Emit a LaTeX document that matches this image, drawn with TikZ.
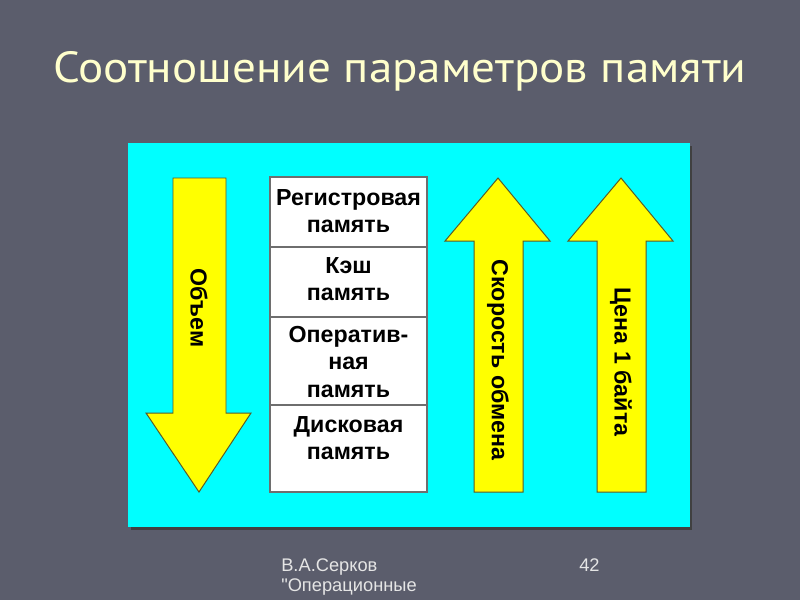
\documentclass[tikz,border=0pt]{standalone}
\usepackage{fontspec}
\usepackage{graphicx}
\setmainfont{Liberation Sans}
\newfontfamily\titlefont{PT Sans}
\definecolor{slidebg}{RGB}{91,93,108}
\definecolor{panelcyan}{RGB}{0,255,255}
\definecolor{arrowyellow}{RGB}{255,255,0}
\definecolor{arrowedge}{RGB}{90,90,40}
\definecolor{titleyellow}{RGB}{255,255,204}
\definecolor{cellgray}{RGB}{110,110,110}
\newcommand\straightquote{\XeTeXglyph\XeTeXglyphindex "quotedbl"\relax}
\tikzset{
  memcell/.style={draw=cellgray,fill=white,line width=0.9pt},
  celltext/.style={align=center,inner sep=0pt,font=\fontsize{16.5}{19.5}\selectfont\bfseries},
  bigarrow/.style={fill=arrowyellow,draw=arrowedge,line width=0.7pt,line join=miter},
  arrowtext/.style={rotate=-90,inner sep=0pt,font=\fontsize{16.5}{19.5}\selectfont\bfseries},
  titletext/.style={text=titleyellow,font=\titlefont\fontsize{31}{36}\selectfont},
  foottext/.style={text=white!90!black,align=left,inner sep=0pt,font=\fontsize{13}{14.5}\selectfont}
}
\begin{document}
\begin{tikzpicture}[x=0.025cm,y=-0.025cm]
  \fill[slidebg] (0,0) rectangle (800,600);
  \useasboundingbox (0,0) rectangle (800,600);
  \node[titletext] (title) at (400,71) {\scalebox{1.08}[1]{Соотношение параметров памяти}};
  % panel with shadow
  \fill[black!75] (131,146) rectangle (692,530);
  \fill[panelcyan] (128,143) rectangle (690,527);
  % down arrow
  \draw[bigarrow] (173,178) -- (226,178) -- (226,413) -- (251,413) -- (199,492)
    -- (146,413) -- (173,413) -- cycle;
  \node[arrowtext] (volume) at (199,308) {Объем};
  % up arrows
  \foreach \cx in {498,621} {
    \draw[bigarrow] (\cx,178) -- (\cx+52,241) -- (\cx+25,241) -- (\cx+25,492)
      -- (\cx-24,492) -- (\cx-24,241) -- (\cx-53,241) -- cycle;
  }
  \node[arrowtext] (speed) at (498,360) {Скорость обмена};
  \node[arrowtext] (price) at (621,362) {Цена 1 байта};
  % memory table
  \draw[memcell] (270,177) rectangle (427,247);
  \draw[memcell] (270,247) rectangle (427,317);
  \draw[memcell] (270,317) rectangle (427,405);
  \draw[memcell] (270,405) rectangle (427,492);
  \node[celltext] (reg) at (348.5,211) {Регистровая\\память};
  \node[celltext] (cache) at (348.5,279) {Кэш\\память};
  \node[celltext] (ram) at (348.5,362) {Оператив-\\ная\\память};
  \node[celltext] (disk) at (348.5,438) {Дисковая\\память};
  % footer
  \node[foottext,anchor=north west] (author) at (281,558) {В.А.Серков\\\straightquote Операционные};
  \node[foottext,anchor=north west] (page) at (579,558) {42};
\end{tikzpicture}
\end{document}
